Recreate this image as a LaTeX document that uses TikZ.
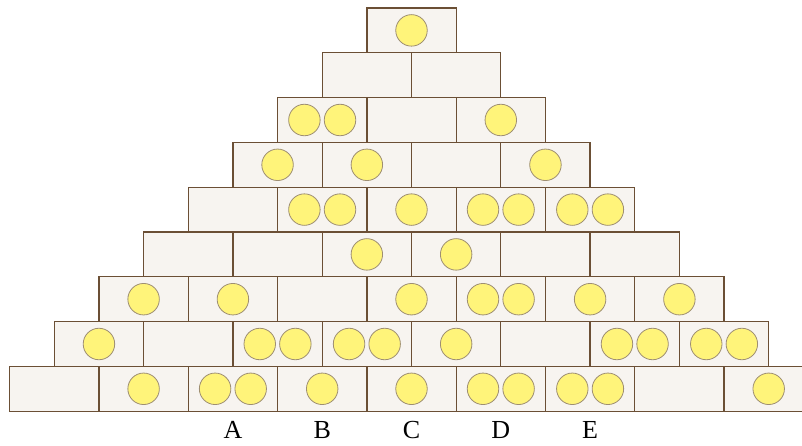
\documentclass[tikz,border=0pt]{standalone}
\usepackage{fontspec}
\setmainfont{Liberation Serif}
\definecolor{brickfill}{HTML}{F7F4F0}
\definecolor{brickline}{HTML}{6B4F35}
\definecolor{coinfill}{HTML}{FFF47A}
\definecolor{coinline}{HTML}{9E8E72}
\usetikzlibrary{positioning}

\begin{document}
\begin{tikzpicture}[x=1pt,y=-1pt,
  brick/.style={draw=brickline,fill=brickfill,line width=1.3pt,minimum width=89.3pt,minimum height=44.8pt,inner sep=0pt,outer sep=0pt},
  coin/.style={circle,draw=coinline,fill=coinfill,line width=0.8pt,minimum size=31.5pt,inner sep=0pt},
  lbl/.style={font=\fontsize{26}{28}\selectfont,anchor=base,inner sep=0pt}]
  \useasboundingbox (0,0) rectangle (802,446);
  \clip (0,0) rectangle (802,446);
  % rows of bricks, top to bottom, with the number of coins in each brick
  \foreach \r/\coins in {1/{1}, 2/{0,0}, 3/{2,0,1}, 4/{1,1,0,1}, 5/{0,2,1,2,2},
      6/{0,0,1,1,0,0}, 7/{1,1,0,1,2,1,1}, 8/{1,0,2,2,1,0,2,2}, 9/{0,1,2,1,1,2,2,0,1}}{
    \foreach \n [count=\i] in \coins {
      \node[brick] (b-\r-\i) at ({411.5+(\i-(\r+1)/2)*89.3},{30.4+(\r-1)*44.8}) {};
      \ifnum\n=1
        \node[coin] (c-\r-\i) at (b-\r-\i.center) {};
      \fi
      \ifnum\n=2
        \node[coin] (c-\r-\i-a) at ([xshift=-17.8pt]b-\r-\i.center) {};
        \node[coin] (c-\r-\i-b) at ([xshift=17.8pt]b-\r-\i.center) {};
      \fi
    }
  }
  % letters under the bottom row
  \foreach \L [count=\k from 3] in {A,B,C,D,E}
    \node[lbl] (lab-\L) at ([yshift=-27pt]b-9-\k.south) {\L};
\end{tikzpicture}
\end{document}
